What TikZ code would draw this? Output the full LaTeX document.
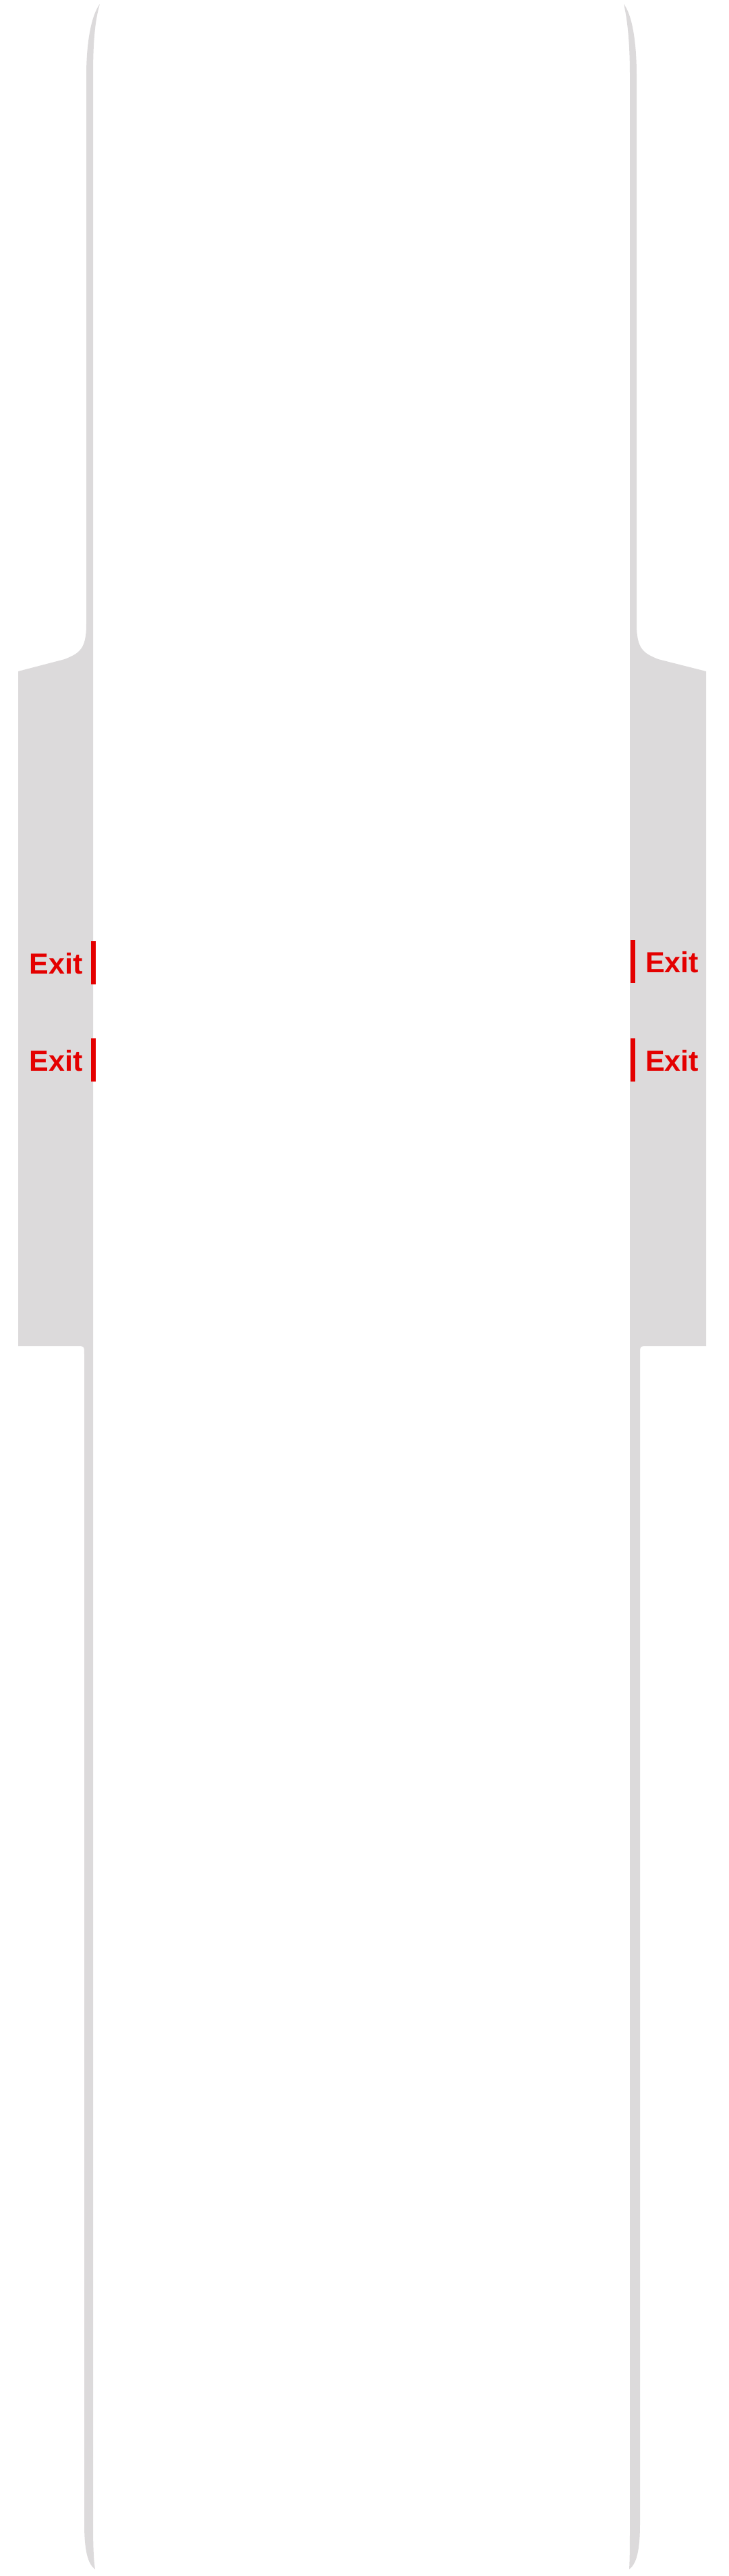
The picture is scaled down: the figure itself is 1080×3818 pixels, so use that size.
\documentclass[tikz,border=0pt]{standalone}
\usepackage{fontspec}
\setmainfont{Liberation Sans}
\definecolor{wallgray}{RGB}{220,218,219}
\definecolor{exitred}{RGB}{228,0,0}
\begin{document}
\begin{tikzpicture}[x=1pt,y=-1pt,
  wall/.style={fill=wallgray},
  exitbar/.style={draw=exitred, line width=7pt},
  exitlabel/.style={text=exitred, font=\bfseries\fontsize{43}{50}\selectfont, inner sep=0pt}]
\fill[white] (0,0) rectangle (1080,3818);
\useasboundingbox (0,0) rectangle (1080,3818);

% left wall with wing
\fill[wall] (148,6) .. controls (136,22) and (128,60) .. (128,112)
  -- (128,925) .. controls (128,962) and (118,968) .. (96,977)
  -- (27,995) -- (27,1995) -- (113,1995) .. controls (125,1995) .. (125,2007)
  -- (125,3740) .. controls (125,3780) and (130,3800) .. (141,3808)
  .. controls (139,3795) and (138,3775) .. (138,3740)
  -- (138,112) .. controls (138,60) and (141,30) .. (148,6) -- cycle;

% right wall with wing
\fill[wall] (925,6) .. controls (937,22) and (944,60) .. (944,112)
  -- (944,925) .. controls (944,962) and (954,968) .. (976,977)
  -- (1047,995) -- (1047,1995) -- (961,1995) .. controls (949,1995) .. (949,2007)
  -- (949,3740) .. controls (949,3780) and (944,3800) .. (933,3808)
  .. controls (934,3790) and (934,3770) .. (934,3740)
  -- (934,112) .. controls (934,60) and (930,28) .. (925,6) -- cycle;

% exits
\coordinate (l1a) at (138,1395); \coordinate (l1b) at (138,1459);
\coordinate (l2a) at (138,1539); \coordinate (l2b) at (138,1603);
\coordinate (r1a) at (938,1393); \coordinate (r1b) at (938,1457);
\coordinate (r2a) at (938,1539); \coordinate (r2b) at (938,1603);
\draw[exitbar] (l1a) -- (l1b);
\draw[exitbar] (l2a) -- (l2b);
\draw[exitbar] (r1a) -- (r1b);
\draw[exitbar] (r2a) -- (r2b);
\node[exitlabel, anchor=base east] (exitL1) at (123,1443) {Exit};
\node[exitlabel, anchor=base east] (exitL2) at (123,1587) {Exit};
\node[exitlabel, anchor=base west] (exitR1) at (957,1441) {Exit};
\node[exitlabel, anchor=base west] (exitR2) at (957,1587) {Exit};
\end{tikzpicture}
\end{document}
